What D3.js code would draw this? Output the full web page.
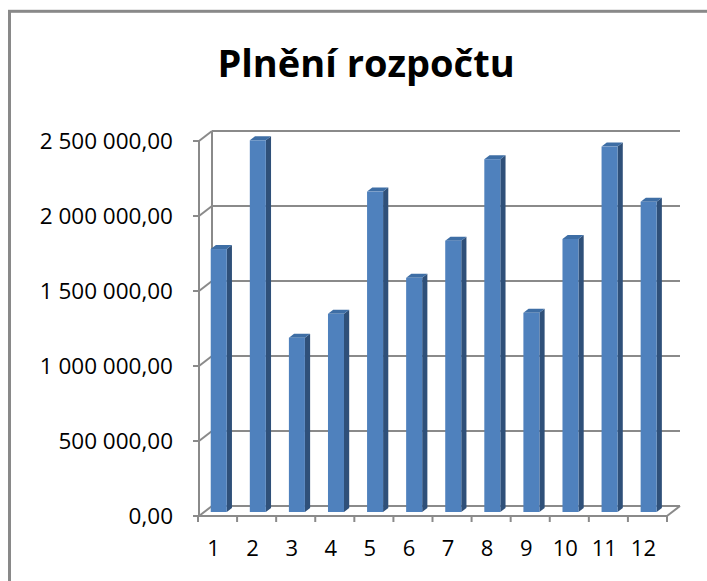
<!DOCTYPE html>
<html>
<head>
<meta charset="utf-8">
<script src="https://cdn.jsdelivr.net/npm/d3@7"></script>
<style>
  body { margin: 0; background: #fff; }
  text { font-family: "Open Sans", Lato, sans-serif; fill: #000; }
</style>
</head>
<body>
<div id="chart"></div>
<script>
// data
const months = ["1", "2", "3", "4", "5", "6", "7", "8", "9", "10", "11", "12"];
const plneni = [1753000, 2478000, 1162000, 1321000, 2136000, 1561000, 1809000, 2352000, 1328000, 1820000, 2436000, 2068000];
const yTicks = [0, 500000, 1000000, 1500000, 2000000, 2500000];
const titleText = "Plnění rozpočtu";

const width = 707, height = 581;

const svg = d3.select("#chart")
    .append("svg")
    .attr("width", width)
    .attr("height", height);

// frame of the chart
svg.append("rect")
    .attr("x", 9.5)
    .attr("y", 11.3)
    .attr("width", 720)
    .attr("height", 600)
    .attr("fill", "#fff")
    .attr("stroke", "#898989")
    .attr("stroke-width", 3);

// title
svg.append("text")
    .attr("x", 366)
    .attr("y", 77)
    .attr("text-anchor", "middle")
    .style("font-size", "38px")
    .style("font-weight", "bold")
    .text(titleText);

// scales (front plane)
const x = d3.scaleBand()
    .domain(months)
    .range([198, 667])
    .paddingInner(0.59)
    .paddingOuter(0.295);

const y = d3.scaleLinear()
    .domain([0, 2500000])
    .range([516, 141]);

// depth offset: full depth of the plot = (13, -10)
const DX = 13, DY = -10;

const grid = svg.append("g");

// back wall gridlines + left wall diagonals
yTicks.forEach(t => {
    const yf = y(t);
    grid.append("line")
        .attr("x1", 199 + DX).attr("y1", yf + DY)
        .attr("x2", 680).attr("y2", yf + DY)
        .attr("stroke", "#8a8a8a").attr("stroke-width", 2);
    grid.append("line")
        .attr("x1", 199).attr("y1", yf)
        .attr("x2", 199 + DX).attr("y2", yf + DY)
        .attr("stroke", "#8a8a8a").attr("stroke-width", 2);
    // tick on the front axis
    grid.append("line")
        .attr("x1", 193).attr("y1", yf)
        .attr("x2", 199).attr("y2", yf)
        .attr("stroke", "#8a8a8a").attr("stroke-width", 2);
});

// back wall left edge
grid.append("line")
    .attr("x1", 199 + DX).attr("y1", y(0) + DY)
    .attr("x2", 199 + DX).attr("y2", y(2500000) + DY)
    .attr("stroke", "#8a8a8a").attr("stroke-width", 2);

// floor right edge
grid.append("line")
    .attr("x1", 667).attr("y1", y(0))
    .attr("x2", 667 + DX).attr("y2", y(0) + DY)
    .attr("stroke", "#8a8a8a").attr("stroke-width", 2);

// front y axis
grid.append("line")
    .attr("x1", 199).attr("y1", y(0))
    .attr("x2", 199).attr("y2", y(2500000))
    .attr("stroke", "#8a8a8a").attr("stroke-width", 2);

// front x axis with ticks at category edges
grid.append("line")
    .attr("x1", 198).attr("y1", y(0))
    .attr("x2", 667).attr("y2", y(0))
    .attr("stroke", "#8a8a8a").attr("stroke-width", 2);

const step = x.step();
d3.range(months.length + 1).forEach(i => {
    const xx = 198 + step * i;
    grid.append("line")
        .attr("x1", xx).attr("y1", y(0))
        .attr("x2", xx).attr("y2", y(0) + 6)
        .attr("stroke", "#8a8a8a").attr("stroke-width", 2);
});

// y labels
const fmt = v => {
    const s = d3.format(",.2f")(v);
    return s.replace(/,/g, " ").replace(".", ",");
};

svg.append("g").selectAll("text")
    .data(yTicks)
    .join("text")
    .attr("x", 173)
    .attr("y", d => y(d) + 2)
    .attr("text-anchor", "end")
    .attr("dominant-baseline", "middle")
    .style("font-size", "22.5px")
    .text(d => fmt(d));

// x labels
svg.append("g").selectAll("text")
    .data(months)
    .join("text")
    .attr("x", d => x(d) + x.bandwidth() / 2 - 4)
    .attr("y", 550)
    .attr("text-anchor", "middle")
    .attr("dominant-baseline", "middle")
    .style("font-size", "22px")
    .text(d => d);

// bars (front face at 0.4 depth, bar depth 0.4)
const f0 = 0.4, f1 = 0.8;
const bars = svg.append("g").selectAll("g")
    .data(months.map((m, i) => ({ m, v: plneni[i] })))
    .join("g");

bars.each(function(d) {
    const g = d3.select(this);
    const w = x.bandwidth();
    const x0 = x(d.m) - 4 + DX * f0;
    const yb = y(0) + DY * f0;
    const yt = y(d.v) + DY * f0;
    const ddx = DX * (f1 - f0), ddy = DY * (f1 - f0);

    // side face
    g.append("path")
        .attr("d", `M${x0 + w},${yb} L${x0 + w + ddx},${yb + ddy} L${x0 + w + ddx},${yt + ddy} L${x0 + w},${yt} Z`)
        .attr("fill", "#2f5079");
    // top face
    g.append("path")
        .attr("d", `M${x0},${yt} L${x0 + ddx},${yt + ddy} L${x0 + w + ddx},${yt + ddy} L${x0 + w},${yt} Z`)
        .attr("fill", "#3e6ea5");
    // front face
    g.append("rect")
        .attr("x", x0)
        .attr("y", yt)
        .attr("width", w)
        .attr("height", yb - yt)
        .attr("fill", "#4f81bd");
});
</script>
</body>
</html>
